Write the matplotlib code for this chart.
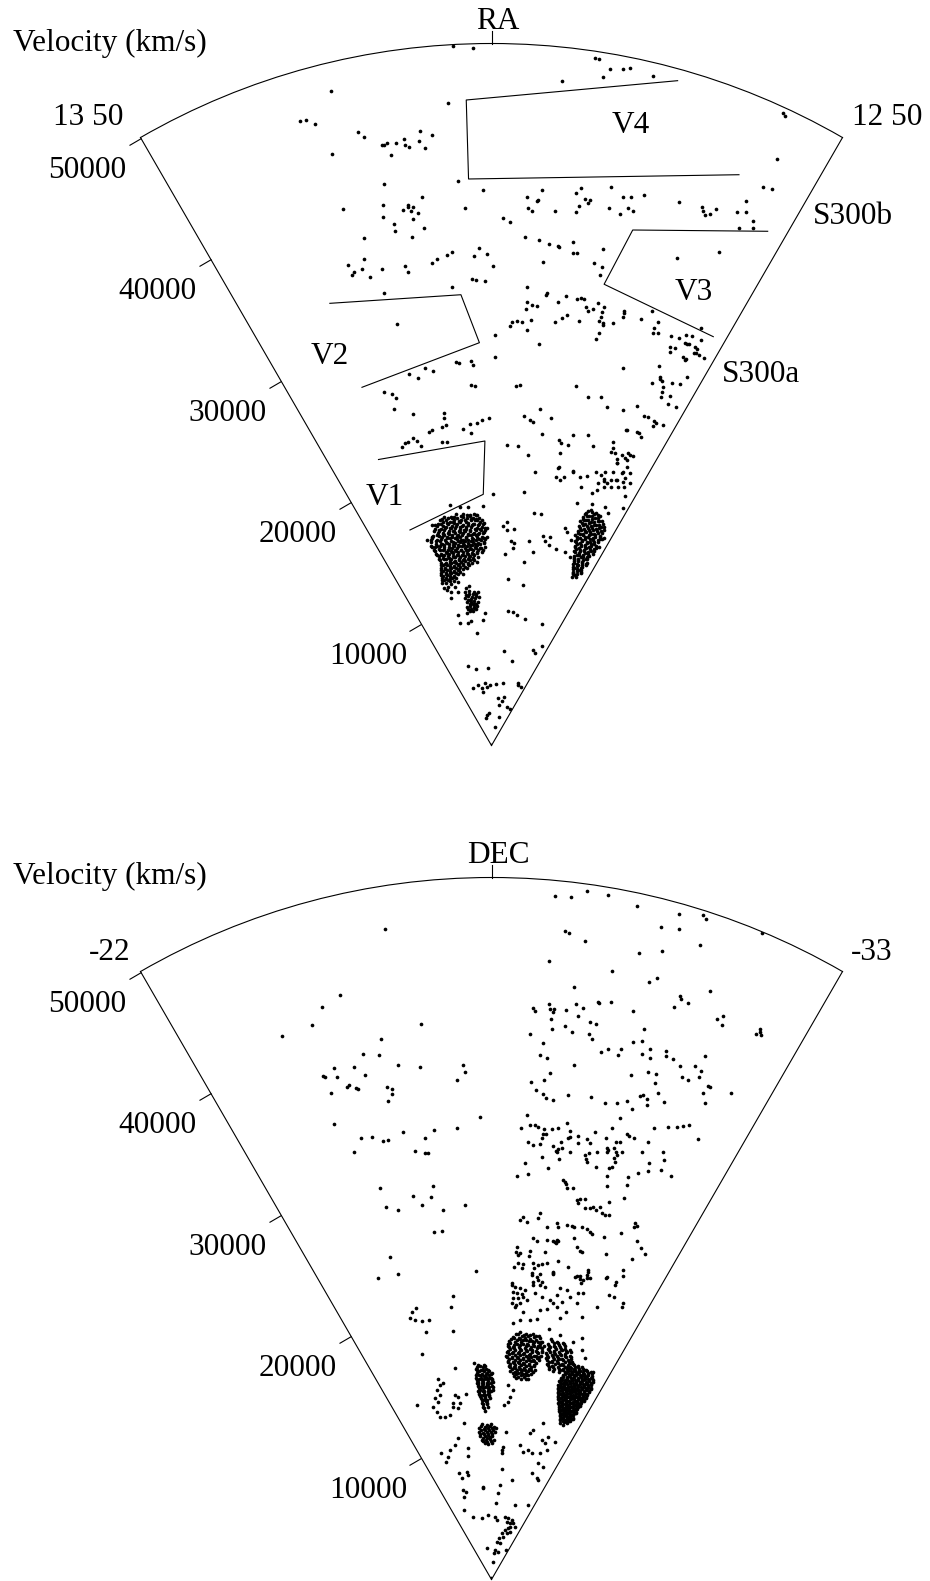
import numpy as np
import matplotlib
matplotlib.use("Agg")
import matplotlib.pyplot as plt

plt.rcParams['font.family'] = ['Liberation Serif', 'DejaVu Serif']

W, H = 930, 1581
FS = 22.5
DOT = 7.0

# ---------------- RA wedge (top) : RA in degrees, velocity in km/s ----------------
ra_field = [
200.79, 200.39, 197.86, 197.77, 197.52, 197.26, 197.11, 197.64, 196.60, 198.48,
200.96, 193.81, 193.76, 193.52, 200.86, 200.23, 200.71, 199.07, 198.71, 198.81,
198.78, 199.02, 198.93, 199.68, 199.50, 198.31, 197.72, 197.83, 197.57, 197.44,
197.47, 197.69, 197.75, 196.98, 196.63, 196.44, 196.13, 196.91, 196.44, 196.30,
196.59, 195.25, 194.67, 194.60, 194.52, 194.41, 194.31, 193.83, 193.63, 193.74,
193.37, 193.62, 193.29, 193.52, 193.31, 199.06, 198.67, 198.37, 198.10, 198.07,
197.70, 197.66, 197.55, 196.85, 198.47, 196.99, 196.74, 196.75, 194.80, 193.82,
201.29, 201.15, 200.50, 200.35, 200.14, 199.97, 200.61, 200.48, 200.19, 201.24,
198.90, 198.26, 198.28, 197.65, 197.30, 197.18, 197.07, 198.85, 198.87, 198.70,
198.53, 197.86, 196.96, 196.86, 196.74, 196.61, 196.40, 197.51, 197.67, 197.87,
197.08, 196.43, 196.43, 196.44, 196.32, 196.28, 195.98, 195.77, 195.75, 195.74,
195.17, 194.93, 194.63, 194.67, 194.65, 194.50, 199.32, 199.15, 198.98, 198.69,
198.77, 199.37, 196.34, 196.40, 199.88, 198.30, 199.87, 193.34, 194.09, 193.83,
193.67, 193.49, 193.17, 193.96, 193.80, 193.90, 193.59, 193.50, 193.45, 193.24,
193.16, 193.12, 193.00, 192.80, 193.43, 193.32, 193.33, 193.17, 195.21, 194.04,
193.01, 193.86, 193.83, 193.73, 194.03, 193.37, 193.12, 193.60, 193.58, 193.51,
193.24, 193.16, 192.85, 196.70, 196.14, 195.65, 195.30, 194.66, 194.19, 193.79,
193.62, 193.36, 193.24, 192.97, 193.29, 194.23, 194.20, 193.79, 193.67, 193.53,
200.81, 200.66, 199.03, 198.87, 201.32, 201.21, 200.78, 200.71, 197.95, 197.44,
198.59, 198.31, 198.19, 197.71, 196.34, 195.70, 200.10, 200.43, 200.66, 200.96,
201.30, 200.94, 199.28, 198.75, 198.20, 196.87, 196.78, 196.42, 195.31, 194.54,
194.45, 194.48, 194.28, 193.73, 193.50, 193.77, 193.67, 193.99, 194.10, 197.74,
196.61, 196.38, 196.22, 195.84, 195.44, 202.03, 202.07, 202.02, 202.22, 202.10,
202.33, 203.44, 204.26, 204.14, 203.97, 203.77, 203.07, 202.95, 202.58, 202.54,
202.46, 202.42, 202.24, 202.05, 202.05, 201.95, 201.70, 201.65, 201.60, 201.39,
202.72, 203.86, 202.85, 202.89, 202.34, 202.20, 202.19, 202.14, 202.07, 202.13,
201.96, 201.81, 201.85, 202.65, 202.65, 202.21, 203.53, 203.68, 204.15, 204.14,
204.04, 203.81, 203.63, 203.24, 202.55, 202.49, 201.77, 201.61, 203.34, 203.15,
203.13, 202.82, 202.50, 202.21, 204.24, 203.97, 203.85, 204.03, 203.32,
202.80, 202.69, 204.19, 203.99, 203.83, 203.57, 203.45, 203.31,
196.70, 196.58, 196.64, 195.88, 195.14, 195.23, 198.17, 199.90, 194.78, 194.51,
194.46, 194.41, 194.58, 194.27, 194.07, 194.02, 193.61, 193.53, 193.35, 193.04,
193.72, 193.97, 193.63, 192.96, 192.76, 193.33, 193.65, 194.34, 195.14, 204.34,
203.79, 202.45, 201.88, 201.39, 200.92, 201.05, 200.49, 199.03, 199.27, 198.99,
198.52, 198.64, 198.39, 198.42, 198.99, 197.49, 197.39, 197.00, 197.41, 196.98,
196.53, 196.34, 196.09, 195.98, 195.45, 195.33, 195.16, 194.81, 194.36, 194.73,
198.61, 197.25, 198.29, 197.68, 197.27, 196.28, 194.39, 198.08, 196.65, 194.17,
193.72, 193.26, 204.07, 202.88, 200.59, 204.37, 203.08, 202.43, 202.17, 201.49,
201.18, 200.36, 198.95, 197.45, 194.17, 193.34, 194.15, 197.95, 196.41, 196.79,
197.28, 194.65, 193.23, 202.23, 200.98, 202.80, 196.36, 197.28, 200.00, 203.62,
202.69, 202.37, 201.87, 200.94, 200.74, 203.57, 202.59]
vel_field = [
49900, 49680, 49500, 49470, 48920, 49080, 49230, 48270, 49040, 47600,
45890, 49630, 49480, 46450, 40300, 39570, 38350, 39170, 39730, 38920,
39000, 38350, 38200, 37560, 37330, 38360, 40200, 39830, 39470, 39480,
39230, 38930, 38450, 40660, 40200, 40330, 40690, 39170, 39470, 39400,
38960, 40920, 41200, 40950, 40730, 40930, 41420, 41820, 42100, 42790,
41770, 40860, 41290, 44200, 44370, 36320, 36140, 35930, 35910, 35850,
36350, 35570, 35620, 36260, 34660, 35120, 35000, 34390, 37170, 38720,
35080, 35260, 34890, 35440, 34990, 34170, 33240, 33180, 33090, 32760,
32770, 32450, 32350, 32470, 32370, 32520, 32480, 31710, 31170, 31510,
31490, 31920, 31930, 31730, 31890, 32440, 32270, 31130, 30830, 30520,
30900, 31840, 31520, 31220, 31140, 30990, 31340, 32370, 32190, 31900,
32170, 33020, 32440, 31900, 31580, 31710, 30220, 30310, 30260, 30440,
29700, 29910, 30350, 29870, 29240, 28800, 27690, 33250, 31840, 31920,
32350, 32470, 32510, 31080, 31160, 30800, 31830, 31820, 31900, 31890,
31780, 31500, 31510, 31470, 30840, 30800, 30700, 31440, 28440, 29570,
29740, 28880, 28760, 28650, 28220, 28830, 29040, 28300, 27960, 27580,
27950, 27390, 27440, 26320, 25730, 25990, 25450, 25660, 26340, 25860,
25910, 25870, 25770, 25880, 25510, 24430, 24480, 24630, 24600, 24450,
25720, 25650, 25690, 25760, 27450, 27320, 27430, 27140, 24190, 23680,
23580, 23350, 23250, 22470, 22860, 23150, 23310, 23190, 23020, 22950,
22640, 22290, 21430, 21410, 20860, 22290, 22080, 22090, 22550, 23310,
22860, 22580, 22630, 22980, 22940, 22560, 22500, 22010, 22240, 19750,
20310, 19530, 19790, 20350, 20120, 23940, 23550, 23060, 22940, 21870,
21930, 48020, 46550, 46480, 46000, 43650, 44740, 44300, 43450, 43460,
43570, 42660, 43460, 43620, 43190, 43050, 43380, 44040, 42800, 43710,
40730, 39640, 39250, 38440, 38660, 38960, 38830, 38520, 38740, 37900,
38260, 39360, 37190, 37790, 37300, 36650, 37270, 35850, 35710, 34960,
35090, 35160, 34490, 34800, 34700, 34220, 34650, 34870, 33100, 30760,
27080, 26710, 27320, 27010, 26300, 26000, 25650, 24930, 24260,
22780, 22870, 22180, 22430, 22450, 22580, 22330, 21910,
21380, 20440, 19680, 20390, 20360, 19500, 18200, 17910, 20830, 20780,
20160, 19680, 19330, 20580, 20400, 21990, 21490, 22070, 21290, 21120,
20890, 22680, 22920, 20180, 19310, 18510, 18830, 18640, 18340, 15330,
16270, 17380, 17160, 17090, 16450, 16100, 17070, 15980, 15650, 15390,
15500, 14650, 14490, 14130, 13680, 13290, 14830, 14110, 16810, 16840,
15370, 15080, 15450, 14860, 14710, 16330, 16140, 14760, 14560, 15690,
11890, 11650, 9670, 9610, 9470, 9300, 9360, 6810, 6210, 7410,
7300, 7980, 5900, 5540, 5540, 4320, 4410, 4130, 3880, 4450,
4160, 4310, 4370, 4500, 4820, 4640, 4690, 3400, 3590, 3270,
2940, 2970, 2900, 2200, 2300, 2020, 2120, 1320, 50, 8990,
8860, 9010, 8100, 8960, 9430, 9590, 9570]

# Shapley core (A3558 complex) in the RA slice
ra_core = [
202.95, 202.53, 202.15, 201.75, 201.33,
203.38, 203.05, 202.65, 202.33, 201.93, 201.55, 201.15, 200.78,
203.65, 203.28, 202.93, 202.55, 202.23, 201.85, 201.48, 201.10, 200.73, 200.45,
203.90, 203.55, 203.20, 202.83, 202.48, 202.05, 201.70, 201.35, 200.95, 200.60, 200.30,
204.08, 203.70, 203.35, 203.00, 202.65, 202.28, 201.93, 201.58, 201.20, 200.85, 200.50,
204.20, 203.85, 203.48, 203.13, 202.78, 202.40, 202.08, 201.73, 201.35, 201.00, 200.65, 200.33,
204.13, 203.78, 203.40, 203.05, 202.73, 202.35, 202.00, 201.63, 201.28, 200.93, 200.55,
204.05, 203.68, 203.33, 202.98, 202.63, 202.25, 201.90, 201.55, 201.18, 200.83, 200.48,
203.95, 203.60, 203.25, 202.88, 202.53, 202.18, 201.83, 201.45, 201.10, 200.73,
203.88, 203.50, 203.15, 202.80, 202.45, 202.08, 201.73, 201.38, 201.00,
203.98, 203.63, 203.28, 202.93, 202.55, 202.20, 201.85, 201.50, 201.15,
204.08, 203.73, 203.38, 203.03, 202.65, 202.30, 201.93,
204.15, 203.80, 203.45, 203.10, 202.75, 202.38,
204.25, 203.90, 203.53, 203.18,
204.20, 203.83,
203.45, 203.08, 202.73, 202.38, 202.03, 201.65, 201.28, 200.90,
203.53, 203.18, 202.83, 202.48, 202.13, 201.75, 201.40, 201.03,
203.50, 203.15, 202.80, 202.45, 202.10, 201.73, 201.38, 201.00,
203.43, 203.08, 202.73, 202.38, 202.00, 201.65, 201.30,
204.00, 203.70, 203.88, 203.55, 203.25, 203.05, 202.88,
203.20, 202.85, 202.48, 202.13, 201.75, 201.35, 200.95,
203.50, 203.13, 202.75, 202.40, 202.03, 201.65, 201.30, 200.90, 200.60,
203.98, 203.53, 203.18, 202.83, 202.45, 202.10, 201.75, 201.40, 201.03, 200.68, 200.40,
204.00, 203.65, 203.30, 202.95, 202.55, 202.20, 201.85, 201.45, 201.10, 200.75, 200.43,
203.85, 203.50, 203.15, 202.80, 202.43, 202.08, 201.70, 201.35, 201.00, 200.63,
203.80, 203.45, 203.10, 202.73, 202.38, 202.03, 201.68, 201.33,
203.90, 203.55, 203.20, 202.85, 202.48, 202.13, 201.75,
203.98, 203.63, 203.28, 202.93, 202.55,
204.05, 203.70, 203.35, 202.98]
vel_core = [
16640, 16560, 16680, 16590, 16520,
16210, 16300, 16230, 16280, 16190, 16310, 16240, 16200,
15940, 15860, 15920, 15880, 15960, 15870, 15930, 15850, 15910, 15880,
15520, 15590, 15530, 15570, 15510, 15580, 15540, 15600, 15520, 15560, 15530,
15230, 15170, 15240, 15180, 15220, 15160, 15250, 15190, 15210, 15170, 15230,
14830, 14880, 14820, 14870, 14840, 14890, 14810, 14860, 14830, 14880, 14850, 14820,
14520, 14470, 14530, 14480, 14510, 14460, 14540, 14490, 14520, 14470, 14500,
14170, 14120, 14180, 14130, 14160, 14110, 14190, 14140, 14170, 14120, 14150,
13820, 13770, 13830, 13780, 13810, 13760, 13840, 13790, 13820, 13780,
13470, 13420, 13480, 13430, 13460, 13410, 13490, 13440, 13470,
13120, 13070, 13130, 13080, 13110, 13060, 13140, 13090, 13120,
12770, 12720, 12780, 12730, 12760, 12710, 12790,
12420, 12370, 12430, 12380, 12410, 12360,
12070, 12020, 12080, 12030,
11720, 11670,
15740, 15700, 15750, 15710, 15730, 15690, 15760, 15720,
15040, 15000, 15050, 15010, 15030, 14990, 15060, 15020,
14340, 14300, 14350, 14310, 14330, 14290, 14360, 14320,
13640, 13600, 13650, 13610, 13630, 13590, 13660,
11500, 11300, 10900, 11850, 11600, 11150, 11900,
16440, 16400, 16450, 16410, 16430, 16390, 16460,
16090, 16050, 16100, 16060, 16080, 16040, 16110, 16070, 16090,
15390, 15350, 15400, 15360, 15380, 15340, 15410, 15370, 15390, 15350, 15380,
14690, 14650, 14700, 14660, 14680, 14640, 14710, 14670, 14690, 14650, 14680,
13990, 13950, 14000, 13960, 13980, 13940, 14010, 13970, 13990, 13950,
13290, 13250, 13300, 13260, 13280, 13240, 13310, 13270,
12940, 12900, 12950, 12910, 12930, 12890, 12960,
12590, 12550, 12600, 12560, 12580,
12240, 12200, 12250, 12210]

ra_core_fill = [
203.10, 202.70, 202.30, 201.90, 201.50, 201.10,
203.60, 203.22, 202.82, 202.45, 202.05, 201.68, 201.30, 200.95,
203.78, 203.40, 203.02, 202.65, 202.28, 201.92, 201.55, 201.18, 200.82, 200.55,
204.00, 203.62, 203.25, 202.90, 202.55, 202.18, 201.80, 201.45, 201.10, 200.75, 200.40,
204.12, 203.78, 203.42, 203.05, 202.70, 202.35, 201.98, 201.62, 201.25, 200.90, 200.58,
204.15, 203.80, 203.43, 203.08, 202.70, 202.33, 201.98, 201.62, 201.25, 200.88, 200.52,
204.08, 203.72, 203.38, 203.00, 202.65, 202.30, 201.92, 201.55, 201.20, 200.85, 200.52,
204.00, 203.65, 203.28, 202.92, 202.58, 202.20, 201.85, 201.48, 201.12, 200.78,
203.90, 203.55, 203.18, 202.82, 202.48, 202.12, 201.78, 201.40, 201.05,
203.92, 203.57, 203.22, 202.87, 202.50, 202.15, 201.80, 201.45,
204.02, 203.67, 203.32, 202.97, 202.60, 202.25, 201.88,
204.10, 203.75, 203.40, 203.05, 202.70,
204.18, 203.83, 203.48, 203.12]
vel_core_fill = [
16530, 16500, 16520, 16490, 16540, 16510,
16180, 16150, 16170, 16140, 16190, 16160, 16175, 16150,
15830, 15800, 15820, 15790, 15840, 15810, 15825, 15800, 15830, 15805,
15480, 15450, 15470, 15440, 15490, 15460, 15475, 15450, 15480, 15455, 15470,
15130, 15100, 15120, 15090, 15140, 15110, 15125, 15100, 15130, 15105, 15120,
14780, 14750, 14770, 14740, 14790, 14760, 14775, 14750, 14780, 14755, 14770,
14430, 14400, 14420, 14390, 14440, 14410, 14425, 14400, 14430, 14405, 14420,
14080, 14050, 14070, 14040, 14090, 14060, 14075, 14050, 14080, 14055,
13730, 13700, 13720, 13690, 13740, 13710, 13725, 13700, 13730,
13380, 13350, 13370, 13340, 13390, 13360, 13375, 13350,
13030, 13000, 13020, 12990, 13040, 13010, 13025,
12680, 12650, 12670, 12640, 12690,
12330, 12300, 12320, 12290]

# group just below the core
ra_group = [202.45, 202.05, 201.63, 201.30, 202.55, 202.23, 201.85, 201.50, 201.20, 202.38,
            202.00, 201.70, 201.38, 202.50, 202.15, 201.80, 201.48, 202.28, 201.93, 201.58,
            202.08, 201.75, 202.33, 201.98,
            202.40, 202.10, 201.78, 201.45, 202.30, 201.95, 201.62, 202.20, 201.88, 201.55,
            202.42, 202.12, 201.80]
vel_group = [11100, 11150, 11000, 10950, 10700, 10750, 10650, 10700, 10600, 10350,
             10300, 10400, 10250, 10000, 10050, 9950, 10000, 9700, 9650, 9750,
             10500, 10150, 11400, 11450,
             10870, 10880, 10850, 10820, 10520, 10560, 10540, 10180, 10200, 10150,
             9850, 9830, 9860]

# S300 concentration (right side of the RA slice)
ra_s300 = [
194.30, 193.93,
194.45, 194.10, 193.75, 193.43,
194.53, 194.18, 193.85, 193.50, 193.18,
194.60, 194.25, 193.93, 193.58, 193.25,
194.55, 194.20, 193.88, 193.53, 193.18, 192.90,
194.50, 194.15, 193.80, 193.48, 193.13,
194.58, 194.23, 193.90, 193.55, 193.23, 192.93,
194.45, 194.10, 193.78, 193.43, 193.10,
194.35, 194.03, 193.68, 193.35, 193.03,
194.25, 193.90, 193.58, 193.25,
194.13, 193.80, 193.45, 193.13,
194.00, 193.68, 193.35,
193.85, 193.53, 193.23,
193.73, 193.40,
193.58,
194.38, 194.03, 193.70, 193.35,
194.33, 193.98, 193.63, 193.30,
194.25, 193.93, 193.60, 193.25,
193.98, 193.63, 193.30,
194.25, 193.95, 193.65, 193.38, 194.10, 193.80, 193.50, 193.20, 194.38, 194.00, 193.60, 193.25,
194.38, 194.03, 193.68,
194.35, 194.00, 193.68, 193.33,
194.43, 194.08, 193.75, 193.42, 193.10,
194.40, 194.05, 193.73, 193.40, 193.05,
194.38, 194.03, 193.70, 193.38, 193.05,
194.18, 193.85, 193.50, 193.18,
194.05, 193.73, 193.40, 193.10,
193.95, 193.63, 193.30,
193.80, 193.48, 193.18,
193.65, 193.35,
194.18, 193.82,
194.50, 194.25, 193.90, 193.58,
194.48, 194.33, 193.98, 193.65, 193.32,
194.48, 194.13, 193.80, 193.47, 193.15,
194.45, 194.12, 193.80, 193.47, 193.12, 192.95,
194.45, 194.10, 193.78, 193.45, 193.12,
194.42, 194.08, 193.75, 193.40, 193.10,
194.35, 194.00, 193.68, 193.35, 193.05,
194.28, 193.95, 193.62, 193.30,
194.18, 193.85, 193.52, 193.20,
194.08, 193.75, 193.42, 193.15,
193.92, 193.60, 193.28,
193.78, 193.46, 193.20,
193.65, 193.45]
vel_s300 = [
18220, 18160,
17880, 17820, 17870, 17830,
17520, 17470, 17530, 17480, 17510,
17170, 17120, 17180, 17130, 17160,
16820, 16770, 16830, 16780, 16810, 16790,
16470, 16420, 16480, 16430, 16460,
16120, 16070, 16130, 16080, 16110, 16090,
15770, 15720, 15780, 15730, 15760,
15420, 15370, 15430, 15380, 15410,
15070, 15020, 15080, 15030,
14720, 14670, 14730, 14680,
14370, 14320, 14380,
14020, 13970, 14030,
13670, 13620,
13300,
16990, 16950, 17000, 16960,
16290, 16250, 16300, 16260,
15590, 15550, 15600, 15560,
14890, 14850, 14900,
20500, 20700, 20900, 21000, 20100, 20300, 20500, 20700, 21100, 21300, 21600, 21800,
18040, 18000, 18050,
17690, 17650, 17700, 17660,
17340, 17300, 17350, 17310, 17330,
16640, 16600, 16650, 16610, 16630,
15940, 15900, 15950, 15910, 15930,
15240, 15200, 15250, 15210,
14540, 14500, 14550, 14510,
14190, 14150, 14200,
13840, 13800, 13850,
13490, 13450,
18120, 18100,
17770, 17750, 17765, 17745,
17420, 17400, 17415, 17395, 17410,
17070, 17050, 17065, 17045, 17060,
16720, 16700, 16715, 16695, 16710, 16700,
16370, 16350, 16365, 16345, 16360,
16020, 16000, 16015, 15995, 16010,
15670, 15650, 15665, 15645, 15660,
15320, 15300, 15315, 15295,
14970, 14950, 14965, 14945,
14620, 14600, 14615, 14595,
14270, 14250, 14265,
13920, 13900, 13915,
13570, 13550]

# void outlines (RA deg, velocity)
v1_ra, v1_vel = [205.39, 200.31, 200.47, 205.18], [21902, 21694, 17900, 16411]
v2_ra, v2_vel = [205.02, 200.97, 200.43, 204.97], [33532, 32180, 28703, 27129]
v3_ra, v3_vel = [192.94, 196.17, 196.57, 192.88], [41574, 38069, 33818, 33127]
v4_ra, v4_vel = [196.09, 200.56, 200.58, 194.14], [49173, 46011, 40383, 44311]

# ---------------- DEC wedge (bottom) : DEC in degrees, velocity ----------------
dec_field = [
-25.80, -24.84, -24.48, -24.21, -23.64, -26.17, -25.39, -24.99, -25.28, -24.36,
-24.10, -24.13, -24.36, -24.74, -24.93, -25.61, -26.04, -24.51, -24.55, -24.67,
-24.71, -24.15, -25.31, -25.39, -25.38, -25.26, -26.92, -26.95, -26.78, -24.01,
-27.25, -26.69, -24.48, -24.73, -24.94, -25.08, -25.45, -25.92, -26.16, -24.23,
-25.65, -25.87, -25.94, -24.58, -25.95, -25.38, -25.85, -24.60, -24.91, -25.58,
-26.12, -26.76, -25.79, -26.03, -24.30, -23.71, -24.39, -26.96,
-28.47, -28.72, -28.94, -29.27, -29.73, -30.39, -30.74, -30.80, -31.67, -28.68,
-28.75, -29.02, -30.17, -30.45, -30.83, -28.48, -29.93, -30.28, -29.55, -30.21,
-30.32, -28.96, -31.24, -30.78, -30.82, -30.95, -30.74, -28.27, -28.31, -28.55,
-28.57, -28.65, -28.64, -28.87, -29.03, -29.16, -29.10, -29.42, -29.44, -29.65,
-30.07, -28.62, -28.65, -28.88, -29.03, -29.34, -29.45, -29.36, -29.43, -28.24,
-30.33, -31.52, -31.60, -31.64, -32.24, -32.27, -32.29, -32.32, -28.51, -28.47,
-28.61, -29.17, -29.65, -29.76, -29.99, -30.01, -30.21, -30.36, -30.43, -30.55,
-30.59, -30.85, -30.88, -31.03, -31.19, -31.47, -31.60, -31.57, -31.30, -31.44,
-31.61, -30.34, -30.65, -30.80, -30.84, -28.71, -28.60, -28.33, -28.45, -28.62,
-28.69, -28.83, -29.14, -29.63, -29.96, -30.21, -30.40, -30.56, -30.63, -30.69,
-30.78, -30.83, -30.97, -31.14, -31.80, -31.84, -31.88, -31.93, -32.30, -30.35,
-28.31, -28.18, -28.38, -28.50, -28.58, -28.73, -28.90, -29.04, -29.23, -29.33,
-28.70, -28.79, -28.69, -28.38, -28.51, -28.67, -28.97, -29.07, -29.15, -29.20,
-29.31, -29.34, -29.52, -29.56, -29.75, -29.83, -29.89, -29.41, -29.12, -29.09,
-29.17, -29.78, -29.82, -29.85, -29.87, -30.03, -30.17, -30.24, -30.29, -30.26,
-30.24, -30.41, -30.50, -30.41, -30.48, -30.51, -30.47, -30.52, -30.60, -30.61,
-30.65, -30.78, -31.06, -31.10, -31.13, -31.41, -31.58, -31.70, -31.81, -32.11,
-31.50, -31.60, -31.30, -31.35, -31.62, -31.89, -31.13, -30.94, -30.98, -30.42,
-30.11, -30.48, -30.43, -28.34, -28.15, -28.43, -28.94, -28.75, -29.37, -29.42,
-29.46, -29.51, -29.65, -30.49, -31.02, -30.67, -29.84, -29.90, -30.03, -29.88,
-30.09, -30.22, -30.30, -30.48, -30.39, -30.57, -30.67, -30.78, -28.88, -28.85,
-28.40, -28.33, -28.53, -29.40, -29.47, -29.15, -29.70, -29.84, -29.91, -30.14,
-30.29, -30.40, -30.46, -30.84, -31.25, -31.52, -31.53, -31.61, -31.75, -28.78,
-28.89, -29.19, -29.40, -29.44, -29.50, -29.54, -29.49, -30.00, -30.15, -30.26,
-30.34, -31.05, -31.95, -32.13, -31.85, -28.29, -28.28, -28.35, -28.41, -28.72,
-28.72, -29.20, -28.25, -28.39, -28.56, -28.52, -28.88, -28.93, -29.05, -29.16,
-29.32, -29.67, -29.60, -29.57, -28.87, -29.16, -29.13, -28.97, -29.25, -30.02,
-30.39, -30.50, -30.62, -30.68, -30.68, -30.82, -30.59, -31.32, -31.33, -31.66,
-31.73, -31.78, -28.24, -26.09, -25.94, -24.46, -24.65, -24.32, -24.49, -24.73,
-25.02, -24.78, -25.87, -24.34, -25.72, -23.25, -28.22, -28.34, -28.53, -28.27,
-28.42, -28.61, -28.31, -28.50, -28.68, -28.27, -28.44, -28.58, -28.40, -28.72,
-28.82, -28.71, -28.88, -29.06, -28.98, -29.21, -29.40, -29.08, -29.35,
-29.67, -29.87, -29.93, -30.17, -30.34, -30.59, -30.76, -30.66, -30.33, -30.47,
-30.72, -30.70, -31.67, -32.15, -32.19, -31.39, -31.62, -31.79,
-29.59, -29.37, -29.62, -29.96, -30.35, -30.98, -30.19, -29.81, -30.10,
-24.77, -24.78, -24.97, -24.54, -24.64, -24.32, -24.45, -24.09, -24.18, -24.28,
-24.58, -24.90, -25.26, -25.45, -25.61, -25.21, -25.49, -25.64, -26.06,
-26.67, -28.27, -28.53, -28.37, -28.35, -28.43, -28.41, -28.70, -28.56, -28.49,
-29.69, -30.06, -30.41, -30.74, -30.20, -30.36, -30.86, -31.13, -31.43, -31.73,
-31.48, -32.04, -31.35, -31.30, -31.52, -32.02, -31.91, -32.12, -28.47, -29.60,
-28.44, -28.33, -30.71, -32.32, -28.12, -26.51, -26.56, -24.41, -24.49, -25.12,
-25.20, -24.29, -24.53, -24.13, -23.54, -24.51, -25.83, -26.98, -28.08, -28.42,
-29.72, -30.31, -30.94, -30.20, -30.84, -31.39, -31.90, -30.83, -30.30, -29.78,
-30.33, -29.47, -28.94, -29.92, -28.74, -30.02, -30.84, -31.38, -28.50, -28.56,
-25.90, -32.30, -31.04, -27.50,
-23.48, -23.63, -24.24, -24.72, -25.07, -23.95, -25.66, -25.55, -25.67,
-28.39, -28.65, -29.05, -29.31, -29.89, -30.37, -30.98, -31.26, -31.43, -31.70, -32.29, -32.25]
vel_dec_field = [
46950, 43010, 42540, 41500, 41500, 39910, 39310, 38530, 38210, 38100,
37800, 37700, 37450, 37800, 37060, 37270, 36840, 36570, 36680, 36290,
36230, 36470, 35860, 35650, 35280, 34890, 36720, 36220, 35640, 34300,
32970, 32230, 32770, 32620, 32160, 32150, 32490, 31800, 32260, 32010,
31020, 30720, 30700, 29020, 28310, 27860, 27600, 27600, 27160, 27100,
26570, 26760, 25080, 25070, 24080, 22970, 22730, 22000,
48890, 48960, 49520, 49480, 49050, 49230, 49680, 49460, 49910, 46500,
46370, 45950, 48010, 48240, 47540, 44270, 45840, 46400, 44150, 44010,
44400, 42630, 44700, 43690, 43500, 43400, 42770, 40840, 40640, 41170,
40880, 40860, 40680, 40890, 41410, 41200, 40600, 41810, 41770, 42030,
41730, 40150, 39430, 39750, 39440, 40350, 40240, 39470, 39180, 38950,
40680, 43020, 43420, 42780, 43170, 43620, 43440, 43290, 38370, 37520,
37370, 37110, 38350, 38700, 38460, 38910, 39590, 39840, 38960, 39450,
38830, 39640, 39300, 39250, 38950, 39320, 39160, 40290, 38270, 38240,
38720, 37290, 37850, 37860, 37210, 36340, 35770, 35570, 35010, 34760,
34540, 34430, 34960, 35110, 34890, 35100, 35430, 34960, 36000, 36200,
35960, 35570, 36600, 36180, 37760, 38400, 38350, 37170, 38610, 34140,
33200, 32230, 32470, 32500, 32400, 32290, 32350, 32480, 32980, 32460,
31920, 31940, 31630, 31290, 31090, 31190, 31200, 30860, 31530, 31120,
31940, 32040, 32200, 31670, 32110, 31890, 32740, 30980, 31010, 30790,
30310, 30960, 30730, 30520, 31150, 31380, 32510, 31790, 31680, 31560,
33260, 32420, 32500, 31930, 31740, 31520, 31250, 31030, 31850, 33150,
33100, 33060, 32270, 33110, 34200, 34610, 34840, 35090, 35300, 34640,
32780, 32310, 31740, 31160, 31540, 31450, 30750, 30300, 29720, 29910,
30290, 30620, 30470, 29740, 28800, 29000, 29570, 30290, 28910, 28780,
28650, 28380, 28460, 29200, 28750, 28180, 27710, 27820, 27890, 27530,
27260, 27350, 27530, 27650, 27350, 27240, 27190, 27290, 26310, 25940,
25940, 25690, 25570, 25840, 25580, 25400, 25810, 25840, 25780, 25900,
25870, 25750, 25630, 25700, 26320, 27390, 27110, 27230, 26260, 24490,
24320, 24500, 24510, 24450, 24420, 24540, 24600, 25050, 24480, 24230,
24230, 24580, 25920, 25620, 24930, 23770, 23410, 23190, 23360, 23580,
23200, 23610, 22340, 22600, 22560, 22270, 22720, 22370, 22650, 22730,
22860, 23180, 22180, 22330, 22000, 22010, 21590, 21420, 21510, 22890,
22460, 22290, 22310, 22720, 23100, 22570, 22050, 22950, 23080, 22990,
23960, 23560, 21150, 20380, 19650, 19900, 20050, 19490, 19270, 19090,
19010, 18210, 17910, 16790, 15300, 13520, 21030, 20920, 20840, 20550,
20460, 20450, 20090, 20120, 20270, 19720, 19630, 19780, 19460, 19200,
20060, 20760, 21880, 21810, 21190, 21260, 21200, 20620, 20460,
20340, 20790, 21310, 21300, 20900, 21300, 21410, 20640, 22330, 22540,
22510, 22980, 22750, 21820, 21490, 20840, 21930, 21950,
22250, 19500, 19640, 19980, 19800, 19750, 19280, 20160, 20410,
14750, 14330, 14390, 14050, 13640, 13520, 13220, 12990, 12570, 12160,
12060, 12080, 12840, 13400, 13230, 12610, 12420, 12750, 13340,
15450, 12460, 10580, 9250, 9010, 9500, 13900, 13590, 13090, 12720,
9790, 9380, 9590, 9430, 10770, 11060, 11720, 10560, 10420, 10030,
10950, 10810, 9630, 8090, 8920, 8840, 7890, 7830, 7900, 7230,
6760, 6160, 5560, 5920, 5440, 6640, 6520, 7900, 7510, 7880,
7620, 6680, 6510, 6210, 5320, 4620, 4410, 4600, 4480, 4250,
4580, 4520, 4480, 4260, 4210, 4290, 4120, 3840, 3650, 3370,
3160, 2990, 2720, 2650, 2120, 2040, 3470, 3650, 1870, 1270,
2250, 2340, 3990, 100,
9690, 8990, 9690, 9930, 10330, 9270, 9490, 8950, 11300,
18310, 18590, 18690, 18810, 18290, 18080, 17910, 18340, 17560, 17110, 16480, 16330]

# concentrations in the DEC slice
dec_blobs = [
-28.69, -28.97, -29.24, -29.52,
-28.42, -28.67, -28.93, -29.19, -29.44, -29.70,
-28.29, -28.55, -28.80, -29.06, -29.32, -29.57, -29.83,
-28.22, -28.47, -28.73, -28.99, -29.24, -29.50, -29.76,
-28.25, -28.51, -28.77, -29.02, -29.28, -29.54, -29.79,
-28.20, -28.45, -28.71, -28.97, -29.22, -29.48, -29.74,
-28.27, -28.53, -28.78, -29.04, -29.30, -29.55,
-28.34, -28.60, -28.86, -29.11, -29.37, -29.63,
-28.45, -28.71, -28.97, -29.22, -29.48,
-28.64, -28.89, -29.15, -29.41,
-28.55, -28.80, -29.06, -29.32, -29.57,
-28.35, -28.61, -28.86, -29.12, -29.38, -29.63,
-28.25, -28.50, -28.76, -29.02, -29.28, -29.53, -29.78,
-28.33, -28.59, -28.85, -29.10, -29.36, -29.62,
-28.32, -28.58, -28.84, -29.09, -29.35, -29.61,
-28.35, -28.61, -28.87, -29.13, -29.38, -29.64,
-28.40, -28.66, -28.92, -29.17, -29.43,
-28.53, -28.79, -29.04, -29.30, -29.55,
-28.77, -29.02, -29.28,
-30.07, -30.32, -30.58,
-29.98, -30.23, -30.49, -30.75, -30.98,
-30.03, -30.29, -30.54, -30.80, -31.06,
-29.99, -30.25, -30.51, -30.76, -31.02, -31.24,
-30.05, -30.31, -30.56, -30.82, -31.08,
-30.16, -30.42, -30.67, -30.93,
-30.29, -30.54, -30.80,
-30.19, -30.45, -30.71,
-30.10, -30.36, -30.62, -30.88,
-30.12, -30.38, -30.64, -30.90, -31.14,
-30.12, -30.38, -30.64, -30.90, -31.15,
-30.23, -30.49, -30.75, -31.00,
-30.29, -30.55, -30.80,
-31.31, -31.53, -31.75, -31.97, -32.19,
-31.22, -31.44, -31.66, -31.88, -32.10, -32.32,
-31.13, -31.35, -31.57, -31.79, -32.01, -32.23, -32.45,
-31.08, -31.30, -31.52, -31.74, -31.96, -32.18, -32.40,
-31.02, -31.24, -31.46, -31.68, -31.90, -32.12, -32.34, -32.52,
-30.98, -31.20, -31.42, -31.64, -31.86, -32.08, -32.30, -32.51,
-30.95, -31.17, -31.39, -31.61, -31.83, -32.05, -32.27, -32.49,
-30.97, -31.19, -31.41, -31.63, -31.85, -32.07, -32.29, -32.51,
-31.00, -31.22, -31.44, -31.66, -31.88, -32.10, -32.32, -32.52,
-31.06, -31.28, -31.50, -31.72, -31.94, -32.16, -32.38,
-31.13, -31.35, -31.57, -31.79, -32.01, -32.23, -32.45,
-31.22, -31.44, -31.66, -31.88, -32.10, -32.32,
-31.31, -31.53, -31.75, -31.97, -32.19, -32.41,
-31.42, -31.64, -31.86, -32.08, -32.30,
-31.53, -31.75, -31.97, -32.19, -32.41,
-31.63, -31.85, -32.07, -32.29,
-31.74, -31.96, -32.18,
-31.86, -32.08,
-31.42, -31.64, -31.86, -32.08,
-31.24, -31.46, -31.68, -31.90, -32.12, -32.34,
-31.19, -31.41, -31.63, -31.85, -32.07, -32.29,
-31.13, -31.35, -31.57, -31.79, -32.01, -32.23, -32.45,
-31.09, -31.31, -31.53, -31.75, -31.97, -32.19, -32.41,
-31.06, -31.28, -31.50, -31.72, -31.94, -32.16, -32.38,
-31.06, -31.28, -31.50, -31.72, -31.94, -32.16, -32.38,
-31.08, -31.30, -31.52, -31.74, -31.96, -32.18, -32.40,
-31.13, -31.35, -31.57, -31.79, -32.01, -32.23, -32.45,
-31.19, -31.41, -31.63, -31.85, -32.07, -32.29,
-31.28, -31.50, -31.72, -31.94, -32.16, -32.38,
-31.37, -31.59, -31.81, -32.03, -32.25,
-31.48, -31.70, -31.92, -32.14, -32.36,
-31.59, -31.81, -32.03, -32.25,
-31.69, -31.91, -32.13, -32.35,
-31.80, -32.02, -32.24,
-26.86, -27.13,
-26.73, -26.99, -27.24,
-26.77, -27.02, -27.28, -27.54,
-26.71, -26.97, -27.23, -27.48,
-26.80, -27.06, -27.32, -27.57,
-26.75, -27.01, -27.26, -27.52,
-26.84, -27.10, -27.35, -27.61,
-26.79, -27.04, -27.30,
-26.90, -27.15, -27.41,
-26.95, -27.21,
-27.01, -27.26,
-27.10,
-26.80, -27.06,
-26.85, -27.11, -27.37,
-26.84, -27.10, -27.36,
-26.76, -27.02, -27.28, -27.53,
-26.78, -27.04, -27.29,
-26.80, -27.06, -27.32,
-26.82, -27.08, -27.34,
-26.85, -27.11, -27.37,
-26.93, -27.18,
-26.86, -27.17, -27.46,
-26.66, -26.95, -27.24, -27.54, -27.79,
-26.60, -26.90, -27.19, -27.48, -27.76,
-26.69, -26.99, -27.28, -27.57,
-26.79, -27.08, -27.37, -27.67,
-26.97, -27.26, -27.56,
-26.78, -27.08, -27.37, -27.66,
-26.75, -27.05, -27.34, -27.63,
-26.65, -26.94, -27.23, -27.52,
-26.84, -27.13, -27.42,
-26.88, -27.17, -27.46]
vel_dec_blobs = [
17720, 17670, 17730, 17680,
17370, 17320, 17380, 17330, 17360, 17310,
17020, 16970, 17030, 16980, 17010, 16960, 17040,
16670, 16620, 16680, 16630, 16660, 16610, 16690,
16320, 16270, 16330, 16280, 16310, 16260, 16340,
15970, 15920, 15980, 15930, 15960, 15910, 15990,
15620, 15570, 15630, 15580, 15610, 15560,
15270, 15220, 15280, 15230, 15260, 15210,
14920, 14870, 14930, 14880, 14910,
14570, 14520, 14580, 14530,
17540, 17500, 17550, 17510, 17530,
17190, 17150, 17200, 17160, 17180, 17140,
16840, 16800, 16850, 16810, 16830, 16790, 16860,
16490, 16450, 16500, 16460, 16480, 16440,
16140, 16100, 16150, 16110, 16130, 16090,
15790, 15750, 15800, 15760, 15780, 15740,
15440, 15400, 15450, 15410, 15430,
15090, 15050, 15100, 15060, 15080,
14740, 14700, 14750,
17620, 17570, 17630,
17270, 17220, 17280, 17230, 17260,
16920, 16870, 16930, 16880, 16910,
16570, 16520, 16580, 16530, 16560, 16540,
16220, 16170, 16230, 16180, 16210,
15870, 15820, 15880, 15830,
15520, 15470, 15530,
17440, 17400, 17450,
17090, 17050, 17100, 17060,
16740, 16700, 16750, 16710, 16730,
16390, 16350, 16400, 16360, 16380,
16040, 16000, 16050, 16010,
15690, 15650, 15700,
16420, 16370, 16430, 16380, 16410,
16170, 16120, 16180, 16130, 16160, 16140,
15920, 15870, 15930, 15880, 15910, 15860, 15940,
15670, 15620, 15680, 15630, 15660, 15610, 15690,
15420, 15370, 15430, 15380, 15410, 15360, 15440, 15390,
15170, 15120, 15180, 15130, 15160, 15110, 15190, 15140,
14920, 14870, 14930, 14880, 14910, 14860, 14940, 14890,
14670, 14620, 14680, 14630, 14660, 14610, 14690, 14640,
14420, 14370, 14430, 14380, 14410, 14360, 14440, 14390,
14170, 14120, 14180, 14130, 14160, 14110, 14190,
13920, 13870, 13930, 13880, 13910, 13860, 13940,
13670, 13620, 13680, 13630, 13660, 13610,
13420, 13370, 13430, 13380, 13410, 13360,
13170, 13120, 13180, 13130, 13160,
12920, 12870, 12930, 12880, 12910,
12670, 12620, 12680, 12630,
12420, 12370, 12430,
12170, 12120,
16290, 16250, 16300, 16260,
16040, 16000, 16050, 16010, 16030, 15990,
15790, 15750, 15800, 15760, 15780, 15740,
15540, 15500, 15550, 15510, 15530, 15490, 15560,
15290, 15250, 15300, 15260, 15280, 15240, 15310,
15040, 15000, 15050, 15010, 15030, 14990, 15060,
14790, 14750, 14800, 14760, 14780, 14740, 14810,
14540, 14500, 14550, 14510, 14530, 14490, 14560,
14290, 14250, 14300, 14260, 14280, 14240, 14310,
14040, 14000, 14050, 14010, 14030, 13990,
13790, 13750, 13800, 13760, 13780, 13740,
13540, 13500, 13550, 13510, 13530,
13290, 13250, 13300, 13260, 13280,
13040, 13000, 13050, 13010,
12790, 12750, 12800, 12760,
12540, 12500, 12550,
15320, 15270,
15020, 14970, 15030,
14720, 14670, 14730, 14680,
14420, 14370, 14430, 14380,
14120, 14070, 14130, 14080,
13820, 13770, 13830, 13780,
13520, 13470, 13530, 13480,
13220, 13170, 13230,
12920, 12870, 12930,
12620, 12570,
12320, 12270,
12000,
15160, 15130,
14870, 14830, 14860,
14570, 14530, 14560,
14270, 14230, 14260, 14240,
13970, 13930, 13960,
13670, 13630, 13660,
13370, 13330, 13360,
13070, 13030, 13060,
12770, 12730,
11070, 11020, 11080,
10800, 10750, 10810, 10760, 10790,
10530, 10480, 10540, 10490, 10520,
10260, 10210, 10270, 10220,
9990, 9940, 10000, 9950,
9720, 9670, 9730,
10930, 10900, 10940, 10890,
10660, 10630, 10670, 10620,
10390, 10360, 10400, 10350,
10120, 10090, 10130,
9850, 9820, 9860]

# further members filling the DEC concentrations (C, then A, B, D)
dec_fill = [
-31.36, -31.58, -31.80, -32.02, -32.24,
-31.27, -31.49, -31.71, -31.93, -32.15, -32.37,
-31.18, -31.40, -31.62, -31.84, -32.06, -32.28, -32.48,
-31.13, -31.35, -31.57, -31.79, -32.01, -32.23, -32.45,
-31.07, -31.29, -31.51, -31.73, -31.95, -32.17, -32.39, -32.55,
-31.03, -31.25, -31.47, -31.69, -31.91, -32.13, -32.35, -32.54,
-31.00, -31.22, -31.44, -31.66, -31.88, -32.10, -32.32, -32.53,
-31.02, -31.24, -31.46, -31.68, -31.90, -32.12, -32.34, -32.54,
-31.05, -31.27, -31.49, -31.71, -31.93, -32.15, -32.37, -32.55,
-31.11, -31.33, -31.55, -31.77, -31.99, -32.21, -32.43,
-31.18, -31.40, -31.62, -31.84, -32.06, -32.28, -32.48,
-31.27, -31.49, -31.71, -31.93, -32.15, -32.37,
-31.36, -31.58, -31.80, -32.02, -32.24, -32.45,
-31.47, -31.69, -31.91, -32.13, -32.35,
-31.58, -31.80, -32.02, -32.24, -32.44,
-31.68, -31.90, -32.12, -32.34,
-31.79, -32.01, -32.23,
-28.62, -28.88, -29.14, -29.40,
-28.48, -28.74, -29.00, -29.26, -29.51, -29.66,
-28.30, -28.62, -28.88, -29.14, -29.40, -29.66,
-28.28, -28.54, -28.80, -29.06, -29.32, -29.58, -29.80,
-28.22, -28.45, -28.71, -28.97, -29.23, -29.49, -29.72,
-28.24, -28.49, -28.75, -29.01, -29.27, -29.53,
-28.31, -28.57, -28.83, -29.08, -29.34, -29.58,
-28.40, -28.66, -28.92, -29.18, -29.44,
-28.58, -28.84, -29.10, -29.36,
-28.78, -29.04, -29.30,
-30.12, -30.38, -30.64,
-30.05, -30.30, -30.56, -30.82, -31.02,
-30.07, -30.33, -30.59, -30.85, -31.10,
-30.05, -30.31, -30.57, -30.83, -31.08, -31.20,
-30.10, -30.36, -30.62, -30.88, -31.12,
-30.22, -30.48, -30.74, -30.98,
-26.93, -27.19,
-26.79, -27.05, -27.30,
-26.72, -26.98, -27.23, -27.47,
-26.83, -27.09, -27.35, -27.55,
-26.72, -26.98, -27.24, -27.48,
-26.86, -27.12, -27.38, -27.58,
-26.76, -27.02, -27.28, -27.50,
-26.86, -27.12, -27.36,
-26.99, -27.24,
-26.98, -27.23,
-27.06]
vel_fill = [
16350, 16320, 16345, 16315, 16340,
16100, 16070, 16095, 16065, 16090, 16075,
15850, 15820, 15845, 15815, 15840, 15825, 15850,
15600, 15570, 15595, 15565, 15590, 15575, 15600,
15350, 15320, 15345, 15315, 15340, 15325, 15350, 15320,
15100, 15070, 15095, 15065, 15090, 15075, 15100, 15070,
14850, 14820, 14845, 14815, 14840, 14825, 14850, 14820,
14600, 14570, 14595, 14565, 14590, 14575, 14600, 14570,
14350, 14320, 14345, 14315, 14340, 14325, 14350, 14320,
14100, 14070, 14095, 14065, 14090, 14075, 14100,
13850, 13820, 13845, 13815, 13840, 13825, 13850,
13600, 13570, 13595, 13565, 13590, 13575,
13350, 13320, 13345, 13315, 13340, 13325,
13100, 13070, 13095, 13065, 13090,
12850, 12820, 12845, 12815, 12840,
12600, 12570, 12595, 12565,
12350, 12320, 12345,
17620, 17600, 17615, 17595,
17270, 17250, 17265, 17245, 17260, 17250,
16920, 16900, 16915, 16895, 16910, 16900,
16570, 16550, 16565, 16545, 16560, 16550, 16570,
16220, 16200, 16215, 16195, 16210, 16200, 16220,
15870, 15850, 15865, 15845, 15860, 15850,
15520, 15500, 15515, 15495, 15510, 15500,
15170, 15150, 15165, 15145, 15160,
14820, 14800, 14815, 14795,
14470, 14450, 14465,
17520, 17500, 17515,
17170, 17150, 17165, 17145, 17160,
16820, 16800, 16815, 16795, 16810,
16470, 16450, 16465, 16445, 16460, 16450,
16120, 16100, 16115, 16095, 16110,
15770, 15750, 15765, 15745,
15235, 15215,
14935, 14915, 14930,
14635, 14615, 14630, 14610,
14335, 14315, 14330, 14310,
14035, 14015, 14030, 14010,
13735, 13715, 13730, 13710,
13435, 13415, 13430, 13410,
13135, 13115, 13130,
12835, 12815,
12535, 12515,
12225]

r_ticks = [10000, 20000, 30000, 40000, 50000]
r_tick_labels = ['10000', '20000', '30000', '40000', '50000']


def pair(a, b):
    n = min(len(a), len(b))
    return np.asarray(a[:n], float), np.asarray(b[:n], float)


def ra_to_theta(ra):
    return np.deg2rad((200.0 - np.asarray(ra, float)) * 4.0)


def dec_to_theta(dec):
    return np.deg2rad(-(np.asarray(dec, float) + 27.5) * 60.0 / 11.0)


fig = plt.figure(figsize=(W / 100, H / 100), dpi=100)
fig.patch.set_facecolor('white')


def make_wedge(apex_x, apex_y_top):
    R = 702.0
    rect = [(apex_x - R / 2) / W, (H - apex_y_top) / H, R / W, R / H]
    ax = fig.add_axes(rect, projection='polar')
    ax.set_theta_zero_location('N')
    ax.set_theta_direction(-1)
    ax.set_thetamin(-30)
    ax.set_thetamax(30)
    ax.set_ylim(0, 50000)
    ax.grid(False)
    ax.set_xticks([])
    ax.set_yticks(r_ticks)
    ax.set_yticklabels([])
    ax.tick_params(axis='y', which='both', left=True, right=False,
                   labelleft=False, labelright=False, length=10, width=0.8,
                   direction='out', color='black')
    for sp in ax.spines.values():
        sp.set_linewidth(0.8)
        sp.set_color('black')
    ty = H - apex_y_top
    for _ in range(3):
        fig.canvas.draw()
        a = ax.transData.transform((0.0, 0.0))
        t = ax.transData.transform((0.0, 50000.0))
        Rnow = t[1] - a[1]
        pos = ax.get_position()
        s = R / Rnow
        w, h = pos.width * s, pos.height * s
        fxa = (a[0] / W - pos.x0) / pos.width
        fya = (a[1] / H - pos.y0) / pos.height
        ax.set_position([apex_x / W - fxa * w, ty / H - fya * h, w, h])
    ax.plot([0, 0], [50000, 50900], color='black', lw=0.8, clip_on=False)
    for r, lab in zip(r_ticks, r_tick_labels):
        ax.annotate(lab, xy=(np.deg2rad(-30), r), xycoords='data',
                    xytext=(-53 * 0.72, -40 * 0.72), textcoords='offset points',
                    ha='center', va='baseline', fontsize=FS)
    return ax


def ftext(x, y, s, ha='center'):
    fig.text(x / W, 1 - y / H, s, ha=ha, va='baseline', fontsize=FS)


# ----- top wedge -----
ax1 = make_wedge(491.5, 745.5)
for ra_l, v_l in [(v1_ra, v1_vel), (v2_ra, v2_vel), (v3_ra, v3_vel), (v4_ra, v4_vel)]:
    ax1.plot(ra_to_theta(ra_l), v_l, color='black', lw=0.8, zorder=2)
for ra_l, v_l in [(ra_field, vel_field), (ra_core, vel_core), (ra_core_fill, vel_core_fill),
                  (ra_group, vel_group), (ra_s300, vel_s300)]:
    a, b = pair(ra_l, v_l)
    ax1.scatter(ra_to_theta(a), b, s=DOT, c='black', linewidths=0, zorder=3)

# ----- bottom wedge -----
ax2 = make_wedge(491.5, 1579.5)
for d_l, v_l in [(dec_field, vel_dec_field), (dec_blobs, vel_dec_blobs), (dec_fill, vel_fill)]:
    a, b = pair(d_l, v_l)
    ax2.scatter(dec_to_theta(a), b, s=DOT, c='black', linewidths=0, zorder=3)

# ----- labels -----
ftext(12.7, 50.7, 'Velocity (km/s)', ha='left')
ftext(497.7, 29.3, 'RA')
ftext(88, 125, '13 50')
ftext(887.5, 125, '12 50')
ftext(853, 224, 'S300b')
ftext(761.3, 381.7, 'S300a')
ftext(631, 133.3, 'V4')
ftext(693.5, 300, 'V3')
ftext(329.5, 364, 'V2')
ftext(384.7, 505, 'V1')

ftext(12.7, 884, 'Velocity (km/s)', ha='left')
ftext(498, 863.3, 'DEC')
ftext(110, 960, '-22')
ftext(871.7, 960, '-33')

fig.savefig('out.png', dpi=100, facecolor='white')
